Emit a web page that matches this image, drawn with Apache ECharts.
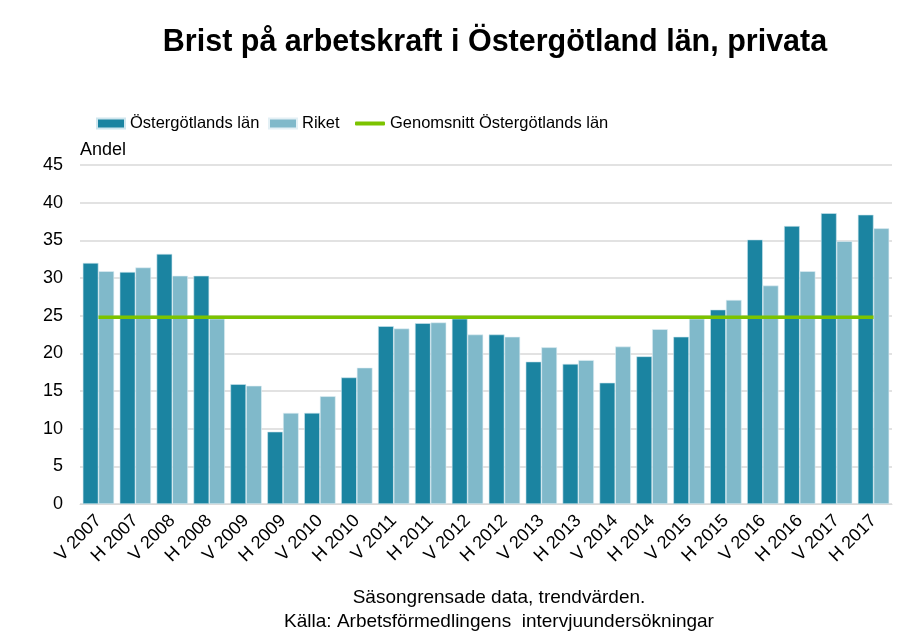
<!DOCTYPE html>
<html>
<head>
<meta charset="utf-8">
<script src="https://cdn.jsdelivr.net/npm/echarts@6/dist/echarts.min.js"></script>
<style>
  html, body { margin: 0; padding: 0; background: #ffffff; }
  #chart { width: 899px; height: 632px; }
</style>
</head>
<body>
<div id="chart"></div>
<script>
// kategorier (halvår)
const categories = [
    'V 2007', 'H 2007', 'V 2008', 'H 2008', 'V 2009', 'H 2009', 'V 2010', 'H 2010',
    'V 2011', 'H 2011', 'V 2012', 'H 2012', 'V 2013', 'H 2013', 'V 2014', 'H 2014',
    'V 2015', 'H 2015', 'V 2016', 'H 2016', 'V 2017', 'H 2017'
]
// Östergötlands län
const ostergotland = [
    32.0, 30.8, 33.2, 30.3, 15.9, 9.6, 12.1, 16.8,
    23.6, 24.0, 24.6, 22.5, 18.9, 18.6, 16.1, 19.6,
    22.2, 25.8, 35.1, 36.9, 38.6, 38.4
]
// Riket
const riket = [
    30.9, 31.4, 30.3, 24.6, 15.7, 12.1, 14.3, 18.1,
    23.3, 24.1, 22.5, 22.2, 20.8, 19.1, 20.9, 23.2,
    24.6, 27.1, 29.0, 30.9, 34.9, 36.6
]
// genomsnitt Östergötlands län
const genomsnitt = 24.8
const genomsnittLine = categories.map(() => genomsnitt)

const yTicks = { min: 0, max: 45, interval: 5 }

const sans = "'Liberation Sans', Arial, sans-serif"

const legendText = { color: '#000000', fontSize: 16.5, fontFamily: sans }

let chart = echarts.init(document.getElementById('chart'))

chart.setOption({
    animation: false,
    backgroundColor: '#ffffff',
    title: [
        {
            text: 'Brist på arbetskraft i Östergötland län, privata',
            left: 490,
            top: 22,
            textAlign: 'center',
            textStyle: { color: '#000000', fontSize: 30.5, fontWeight: 'bold', fontFamily: sans }
        },
        {
            text: 'Säsongrensade data, trendvärden.',
            left: 494,
            top: 583,
            textAlign: 'center',
            textStyle: { color: '#000000', fontSize: 19, fontWeight: 'normal', fontFamily: sans }
        },
        {
            text: 'Källa: Arbetsförmedlingens  intervjuundersökningar',
            left: 494,
            top: 607,
            textAlign: 'center',
            textStyle: { color: '#000000', fontSize: 19, fontWeight: 'normal', fontFamily: sans }
        }
    ],
    legend: [
        {
            data: [{ name: 'Östergötlands län', icon: 'rect' }],
            left: 96, top: 115, padding: 0, itemWidth: 28, itemHeight: 10, itemGap: 0,
            textStyle: legendText
        },
        {
            data: [{ name: 'Riket', icon: 'rect' }],
            left: 268, top: 115, padding: 0, itemWidth: 28, itemHeight: 10, itemGap: 0,
            textStyle: legendText
        },
        {
            data: [{ name: 'Genomsnitt Östergötlands län', icon: 'roundRect' }],
            left: 355, top: 115, padding: 0, itemWidth: 30, itemHeight: 4, itemGap: 0,
            textStyle: legendText
        }
    ],
    grid: {
        left: 80,
        right: 7,
        top: 165,
        bottom: 128,
        containLabel: false
    },
    xAxis: {
        type: 'category',
        data: categories,
        axisTick: { show: false },
        axisLine: { lineStyle: { color: '#d9d9d9', width: 1 } },
        axisLabel: {
            interval: 0,
            rotate: 45,
            margin: 14,
            color: '#000000',
            fontSize: 18,
            fontFamily: sans
        }
    },
    yAxis: {
        type: 'value',
        min: yTicks.min,
        max: yTicks.max,
        interval: yTicks.interval,
        name: 'Andel',
        nameLocation: 'end',
        nameGap: 6,
        nameTextStyle: { color: '#000000', fontSize: 18, fontFamily: sans, align: 'left' },
        axisLine: { show: false },
        axisTick: { show: false },
        axisLabel: { color: '#000000', fontSize: 18, margin: 17, fontFamily: sans },
        splitLine: { lineStyle: { color: '#d9d9d9', width: 1.5 } }
    },
    series: [
        {
            name: 'Östergötlands län',
            type: 'bar',
            data: ostergotland,
            barGap: '0%',
            barCategoryGap: '15%',
            itemStyle: { color: '#1b84a1', borderColor: '#cfe6ee', borderWidth: 0.6 }
        },
        {
            name: 'Riket',
            type: 'bar',
            data: riket,
            itemStyle: { color: '#80b9ca', borderColor: '#e3f0f5', borderWidth: 0.6 }
        },
        {
            name: 'Genomsnitt Östergötlands län',
            type: 'line',
            data: genomsnittLine,
            symbol: 'none',
            lineStyle: { color: '#7cc300', width: 3.5 },
            itemStyle: { color: '#7cc300' },
            z: 5
        }
    ]
})
</script>
</body>
</html>
